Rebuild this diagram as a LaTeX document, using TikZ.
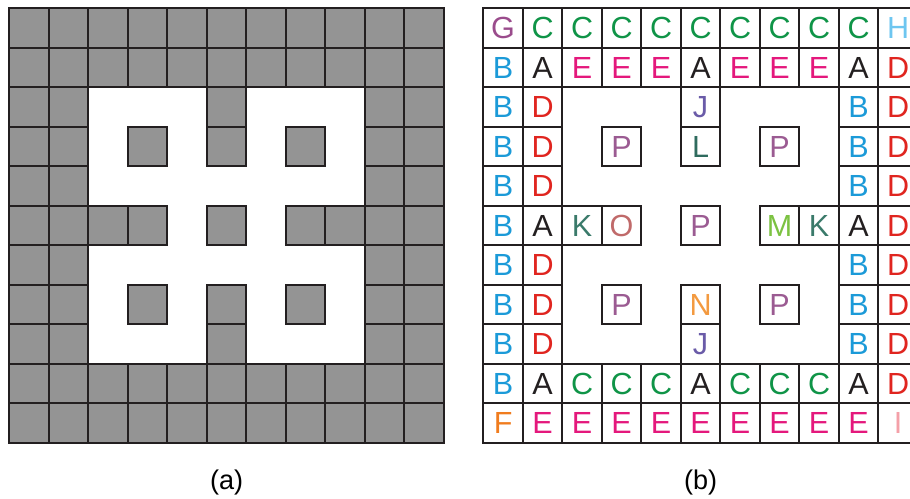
\documentclass[tikz,border=0pt]{standalone}
\usepackage{fontspec}
\setmainfont{Liberation Sans}
\usetikzlibrary{positioning}
\definecolor{cellgray}{HTML}{949494}
\definecolor{colA}{HTML}{231F20}
\definecolor{colB}{HTML}{1B9AD8}
\definecolor{colC}{HTML}{0F9447}
\definecolor{colD}{HTML}{E0251F}
\definecolor{colE}{HTML}{E4187C}
\definecolor{colF}{HTML}{F07C1E}
\definecolor{colG}{HTML}{9A4C8C}
\definecolor{colH}{HTML}{6EC6F0}
\definecolor{colI}{HTML}{F4A0A8}
\definecolor{colJ}{HTML}{6A5BA8}
\definecolor{colK}{HTML}{3A7A6A}
\definecolor{colL}{HTML}{2F6B5E}
\definecolor{colM}{HTML}{7CC242}
\definecolor{colN}{HTML}{F39A40}
\definecolor{colO}{HTML}{C06A6A}
\definecolor{colP}{HTML}{9B5B92}
\begin{document}
\begin{tikzpicture}[cell/.style={draw=colA,line width=1.4pt,minimum size=1cm,inner sep=0pt},
lab/.style={font=\fontsize{19.5}{20}\selectfont}]
\useasboundingbox(-.235,-1.41)rectangle(22.8,11.21);
\clip(-.235,-1.41)rectangle(22.8,11.21);
\foreach \row [count=\y from 0] in {{G,C,C,C,C,C,C,C,C,C,H},{B,A,E,E,E,A,E,E,E,A,D},{B,D,.,.,.,J,.,.,.,B,D},{B,D,.,P,.,L,.,P,.,B,D},{B,D,.,.,.,.,.,.,.,B,D},{B,A,K,O,.,P,.,M,K,A,D},{B,D,.,.,.,.,.,.,.,B,D},{B,D,.,P,.,N,.,P,.,B,D},{B,D,.,.,.,J,.,.,.,B,D},{B,A,C,C,C,A,C,C,C,A,D},{F,E,E,E,E,E,E,E,E,E,I}}{
\foreach \l [count=\x from 0] in \row {\if\l.\else
\node[cell,fill=cellgray](a\y-\x)at(\x+.5,10.5-\y){};
\node[cell,text=col\l,font=\fontsize{22}{22}\selectfont](b\y-\x)at(\x+12.5,10.5-\y){\l};
\fi}}
\node[lab](la)at(5.5,-1){(a)};
\node[lab](lb)at(17.5,-1){(b)};
\end{tikzpicture}
\end{document}
